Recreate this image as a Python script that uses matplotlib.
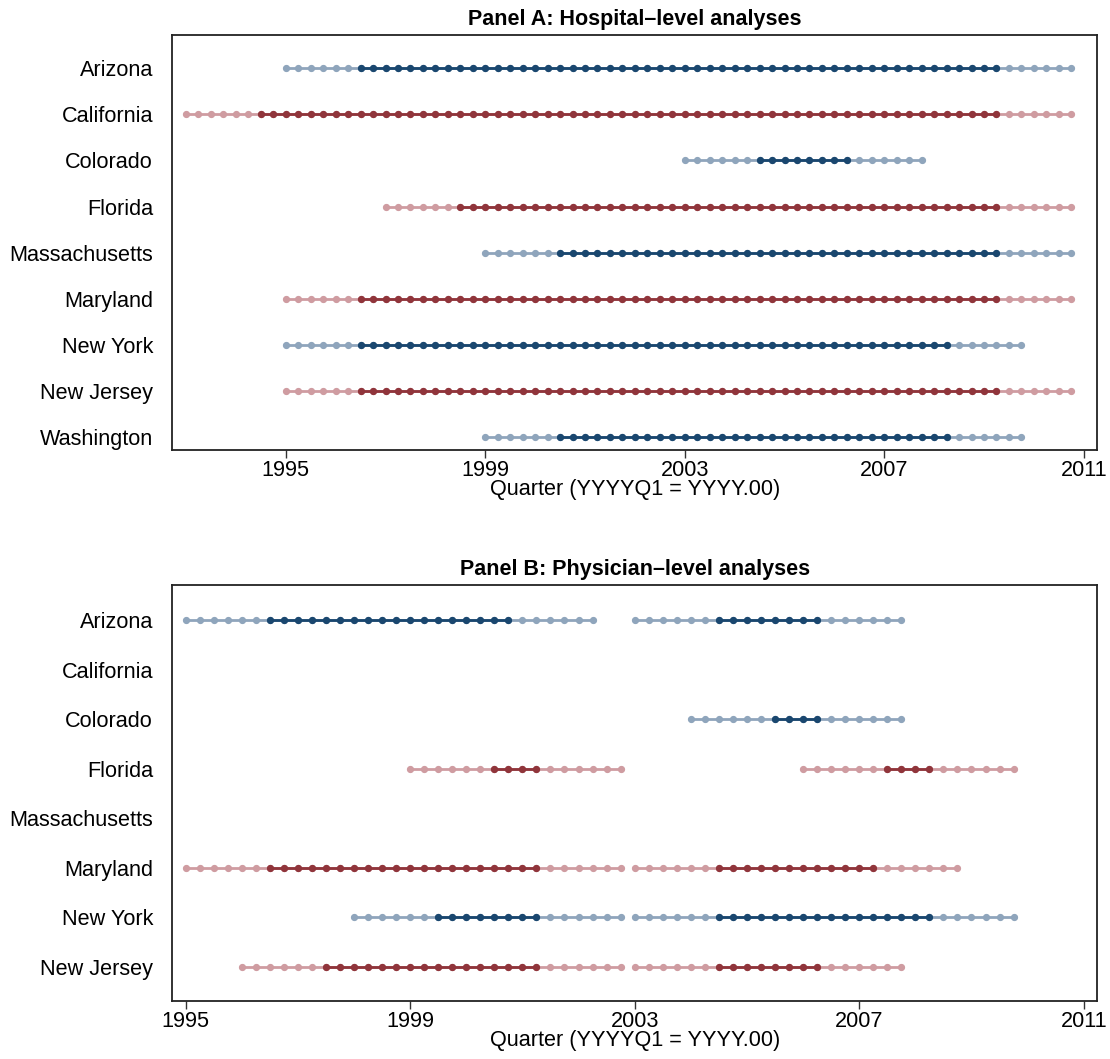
import numpy as np
import matplotlib.pyplot as plt

plt.rcParams['font.family'] = ['Liberation Sans', 'DejaVu Sans']

# state names, top to bottom
states_a = ["Arizona", "California", "Colorado", "Florida", "Massachusetts",
            "Maryland", "New York", "New Jersey", "Washington"]
states_b = ["Arizona", "California", "Colorado", "Florida", "Massachusetts",
            "Maryland", "New York", "New Jersey"]

# windows: (first quarter, first analysis quarter, last analysis quarter, last quarter)
windows_a = {
    "Arizona": [(1995.0, 1996.5, 2009.25, 2010.75)],
    "California": [(1993.0, 1994.5, 2009.25, 2010.75)],
    "Colorado": [(2003.0, 2004.5, 2006.25, 2007.75)],
    "Florida": [(1997.0, 1998.5, 2009.25, 2010.75)],
    "Massachusetts": [(1999.0, 2000.5, 2009.25, 2010.75)],
    "Maryland": [(1995.0, 1996.5, 2009.25, 2010.75)],
    "New York": [(1995.0, 1996.5, 2008.25, 2009.75)],
    "New Jersey": [(1995.0, 1996.5, 2009.25, 2010.75)],
    "Washington": [(1999.0, 2000.5, 2008.25, 2009.75)],
}
windows_b = {
    "Arizona": [(1995.0, 1996.5, 2000.75, 2002.25),
                (2003.0, 2004.5, 2006.25, 2007.75)],
    "California": [],
    "Colorado": [(2004.0, 2005.5, 2006.25, 2007.75)],
    "Florida": [(1999.0, 2000.5, 2001.25, 2002.75),
                (2006.0, 2007.5, 2008.25, 2009.75)],
    "Massachusetts": [],
    "Maryland": [(1995.0, 1996.5, 2001.25, 2002.75),
                 (2003.0, 2004.5, 2007.25, 2008.75)],
    "New York": [(1998.0, 1999.5, 2001.25, 2002.75),
                 (2003.0, 2004.5, 2008.25, 2009.75)],
    "New Jersey": [(1996.0, 1997.5, 2001.25, 2002.75),
                   (2003.0, 2004.5, 2006.25, 2007.75)],
}

year_ticks = [1995, 1999, 2003, 2007, 2011]

dark = {"blue": "#1a476f", "red": "#90353b"}
light = {"blue": "#8fa5bc", "red": "#cf9ca1"}


def quarters(a, b):
    return np.arange(a, b + 0.01, 0.25)


def draw_panel(ax, states, windows, title, xlim, ylim):
    for i, st in enumerate(states):
        col = "blue" if i % 2 == 0 else "red"
        for start, d0, d1, end in windows[st]:
            q = quarters(start, end)
            ax.plot(q, np.full(len(q), i), color=light[col], lw=2.0,
                    marker="o", ms=4.2, mec=light[col], zorder=2)
            qd = quarters(d0, d1)
            ax.plot(qd, np.full(len(qd), i), color=dark[col], lw=2.0,
                    marker="o", ms=4.2, mec=dark[col], zorder=3)
    ax.set_yticks(range(len(states)))
    ax.set_yticklabels(states, fontsize=15.6)
    ax.set_xticks(year_ticks)
    ax.set_xticklabels([str(y) for y in year_ticks], fontsize=15.6)
    ax.set_xlim(*xlim)
    ax.set_ylim(*ylim)
    ax.tick_params(axis="y", length=0, pad=13.7)
    ax.tick_params(axis="x", length=6, width=1, pad=1, color="#333333")
    ax.set_xlabel("Quarter (YYYYQ1 = YYYY.00)", fontsize=15.6, labelpad=-1)
    ax.set_title(title, fontsize=15.5, fontweight="bold", pad=7)
    for sp in ax.spines.values():
        sp.set_linewidth(1.3)
        sp.set_color("#222222")


fig = plt.figure(figsize=(11.1, 10.59), dpi=100)
ax1 = fig.add_axes([0.155, 0.575, 0.8335, 0.392])
ax2 = fig.add_axes([0.155, 0.0548, 0.8335, 0.3928])

draw_panel(ax1, states_a, windows_a, "Panel A: Hospital–level analyses",
           (1992.72, 2011.27), (8.28, -0.72))
draw_panel(ax2, states_b, windows_b, "Panel B: Physician–level analyses",
           (1994.76, 2011.24), (7.69, -0.71))

fig.savefig("out.png", dpi=100)
